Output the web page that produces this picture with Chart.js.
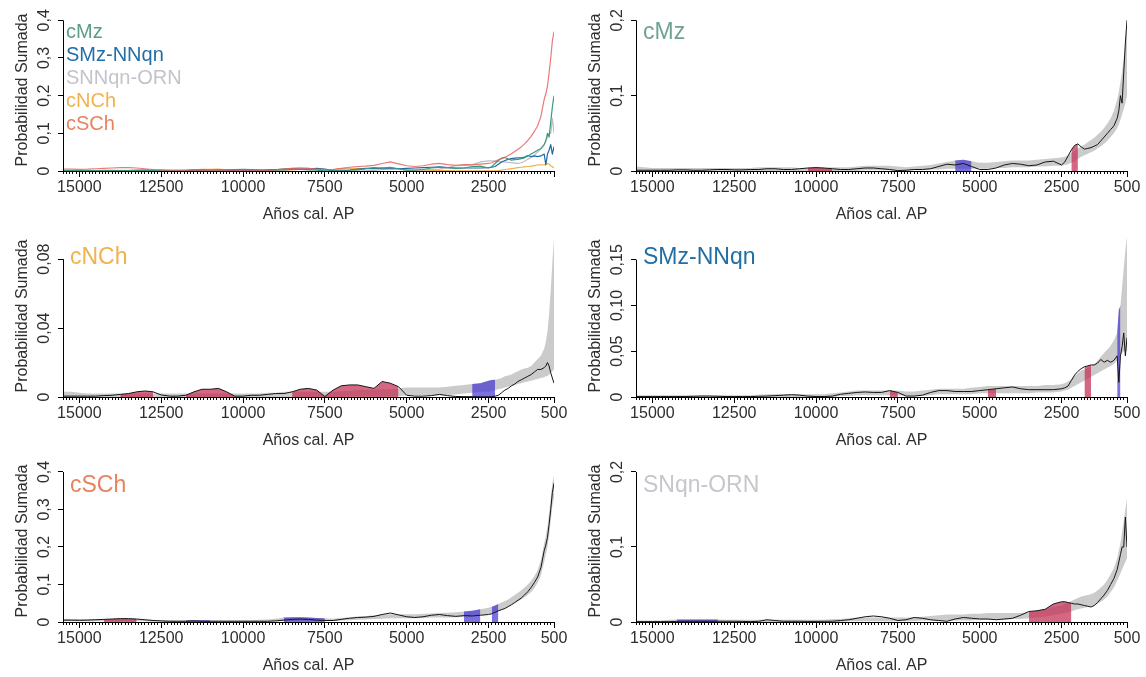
<!DOCTYPE html>
<html lang="es">
<head>
<meta charset="utf-8">
<title>Probabilidad sumada por región</title>
<script src="https://cdn.jsdelivr.net/npm/chart.js@4.4.1/dist/chart.umd.min.js"></script>
<style>
  html, body { margin: 0; background: #fff; }
  #fig { position: relative; width: 1146px; height: 677px; overflow: hidden;
         font-family: 'Liberation Sans', Arial, Helvetica, sans-serif; }
  #fig canvas { position: absolute; }
  .tag { position: absolute; font-size: 23px; line-height: 23px; white-space: nowrap; }
  .key { position: absolute; left: 66px; top: 20px; font-size: 20px; line-height: 23px; white-space: nowrap; }
</style>
</head>
<body>
<div id="fig">
  <canvas id="all" width="573" height="226" style="left:0;top:0"></canvas>
  <canvas id="cMz" width="573" height="226" style="left:573px;top:0"></canvas>
  <canvas id="cNCh" width="573" height="226" style="left:0;top:226px"></canvas>
  <canvas id="SMz" width="573" height="226" style="left:573px;top:226px"></canvas>
  <canvas id="cSCh" width="573" height="226" style="left:0;top:451px"></canvas>
  <canvas id="SNqn" width="573" height="226" style="left:573px;top:451px"></canvas>

  <div class="key">
    <div style="color:#5a9e8a">cMz</div>
    <div style="color:#226ea6">SMz-NNqn</div>
    <div style="color:#c3c3cb">SNNqn-ORN</div>
    <div style="color:#f1b24e">cNCh</div>
    <div style="color:#e9825f">cSCh</div>
  </div>
  <div class="tag" style="left:643px;top:20px;color:#6fa295">cMz</div>
  <div class="tag" style="left:70px;top:245px;color:#f1b24e">cNCh</div>
  <div class="tag" style="left:643px;top:245px;color:#226ea6">SMz-NNqn</div>
  <div class="tag" style="left:70px;top:473px;color:#e9825f">cSCh</div>
  <div class="tag" style="left:643px;top:473px;color:#c6c6cc">SNqn-ORN</div>
</div>

<script>
// Años cal. AP, grid shared by every curve
const years = [
  15500, 15250, 15000, 14750, 14500, 14250, 14000, 13750, 13500, 13250, 13000, 12750, 12500,
  12250, 12000, 11750, 11500, 11250, 11000, 10750, 10500, 10250, 10000, 9750, 9500, 9250,
  9000, 8750, 8500, 8250, 8000, 7750, 7500, 7250, 7000, 6750, 6500, 6250, 6000,
  5750, 5500, 5250, 5000, 4750, 4500, 4250, 4000, 3750, 3500, 3250, 3000, 2750,
  2500, 2400, 2300, 2200, 2100, 2000, 1900, 1800, 1700, 1600, 1500, 1400, 1300,
  1200, 1100, 1000, 900, 800, 750, 700, 650, 600, 550, 500
];

const xTicks = [15000, 12500, 10000, 7500, 5000, 2500, 500];
const xLabels = ['15000', '12500', '10000', '7500', '5000', '2500', '500'];

// cMz: summed probability, simulation envelope, booms / busts
const cMzSpd = [
  0.001, 0.001, 0.001, 0.001, 0.001, 0.0015, 0.0015, 0.001, 0.001, 0.0015, 0.002, 0.002, 0.0015,
  0.0015, 0.002, 0.002, 0.003, 0.003, 0.002, 0.002, 0.003, 0.004, 0.0045, 0.004, 0.003, 0.002,
  0.002, 0.003, 0.004, 0.004, 0.003, 0.002, 0.0005, 0.001, 0.002, 0.002, 0.003, 0.006, 0.009,
  0.008, 0.01, 0.006, 0.002, 0.002, 0.004, 0.008, 0.01, 0.009, 0.007, 0.008, 0.012, 0.013,
  0.008, 0.012, 0.02, 0.028, 0.034, 0.036, 0.032, 0.029, 0.03, 0.031, 0.033, 0.035, 0.04,
  0.045, 0.05, 0.055, 0.06, 0.07, 0.08, 0.1, 0.09, 0.13, 0.17, 0.2
];
const cMzLo = [
  0, 0, 0, 0, 0, 0, 0, 0, 0, 0, 0, 0, 0,
  0, 0, 0, 0, 0, 0, 0, 0, 0, 0, 0, 0, 0,
  0, 0, 0.001, 0.001, 0.001, 0.001, 0.001, 0.001, 0.001, 0.001, 0.002, 0.002, 0.003,
  0.003, 0.003, 0.003, 0.003, 0.003, 0.004, 0.004, 0.005, 0.005, 0.005, 0.006, 0.006, 0.007,
  0.007, 0.008, 0.009, 0.011, 0.013, 0.016, 0.019, 0.021, 0.023, 0.025, 0.027, 0.03, 0.033,
  0.036, 0.04, 0.045, 0.05, 0.057, 0.062, 0.068, 0.075, 0.082, 0.09, 0.1
];
const cMzHi = [
  0.006, 0.005, 0.004, 0.004, 0.004, 0.004, 0.004, 0.004, 0.004, 0.004, 0.004, 0.004, 0.004,
  0.004, 0.004, 0.005, 0.005, 0.005, 0.005, 0.005, 0.004, 0.004, 0.004, 0.004, 0.005, 0.005,
  0.005, 0.006, 0.007, 0.007, 0.007, 0.007, 0.006, 0.005, 0.006, 0.007, 0.008, 0.01, 0.012,
  0.014, 0.015, 0.013, 0.011, 0.011, 0.012, 0.013, 0.014, 0.014, 0.014, 0.015, 0.016, 0.017,
  0.018, 0.019, 0.021, 0.024, 0.027, 0.03, 0.033, 0.035, 0.038, 0.041, 0.044, 0.048, 0.052,
  0.057, 0.063, 0.07, 0.08, 0.095, 0.105, 0.118, 0.132, 0.15, 0.17, 0.19
];
const cMzBooms = [[10250, 9500], [2200, 2000]];
const cMzBusts = [[5750, 5250]];

// cNCh
const cNChSpd = [
  0.0005, 0.0005, 0.0005, 0.0005, 0.0005, 0.0008, 0.001, 0.0015, 0.002, 0.003, 0.0035, 0.003, 0.0012,
  0.0005, 0.0005, 0.001, 0.003, 0.0045, 0.0045, 0.005, 0.003, 0.0005, 0.0005, 0.001, 0.001, 0.0015,
  0.002, 0.002, 0.003, 0.0045, 0.005, 0.004, 0.0003, 0.004, 0.0065, 0.007, 0.007, 0.006, 0.005,
  0.009, 0.008, 0.006, 0.001, 0.0005, 0.0005, 0.0008, 0.0015, 0.0008, 0.0003, 0.0002, 0.0002, 0.0001,
  0.0001, 0.0002, 0.0005, 0.001, 0.0025, 0.004, 0.005, 0.0065, 0.0075, 0.009, 0.01, 0.011, 0.012,
  0.013, 0.0145, 0.016, 0.016, 0.017, 0.018, 0.02, 0.018, 0.014, 0.011, 0.008
];
const cNChLo = [
  0, 0, 0, 0, 0, 0, 0, 0, 0, 0, 0, 0, 0,
  0, 0, 0, 0, 0, 0, 0, 0, 0, 0, 0, 0, 0,
  0, 0, 0, 0, 0, 0, 0, 0, 0, 0.0005, 0.0005, 0.0005, 0.0005,
  0.0005, 0.0005, 0.0005, 0.0008, 0.001, 0.001, 0.001, 0.001, 0.0012, 0.0015, 0.002, 0.0025, 0.003,
  0.003, 0.0035, 0.004, 0.0045, 0.005, 0.0055, 0.006, 0.0065, 0.007, 0.0075, 0.008, 0.0085, 0.009,
  0.0095, 0.01, 0.0105, 0.011, 0.0115, 0.012, 0.012, 0.013, 0.014, 0.015, 0.016
];
const cNChHi = [
  0.003, 0.003, 0.0025, 0.002, 0.002, 0.002, 0.002, 0.002, 0.002, 0.002, 0.002, 0.002, 0.002,
  0.002, 0.002, 0.002, 0.002, 0.002, 0.002, 0.002, 0.002, 0.002, 0.002, 0.002, 0.002, 0.0025,
  0.0025, 0.003, 0.003, 0.003, 0.003, 0.003, 0.003, 0.003, 0.0035, 0.0035, 0.004, 0.004, 0.004,
  0.0045, 0.0045, 0.005, 0.0055, 0.0055, 0.0055, 0.0055, 0.0055, 0.006, 0.0065, 0.007, 0.0075, 0.008,
  0.0095, 0.0098, 0.01, 0.0105, 0.011, 0.012, 0.0125, 0.013, 0.014, 0.015, 0.016, 0.0165, 0.017,
  0.018, 0.02, 0.022, 0.024, 0.028, 0.032, 0.038, 0.048, 0.062, 0.078, 0.092
];
const cNChBooms = [[13750, 12750], [11750, 10250], [8500, 7500], [7250, 5250]];
const cNChBusts = [[3000, 2300]];

// SMz-NNqn
const smzSpd = [
  0.0005, 0.0005, 0.0005, 0.0005, 0.0005, 0.0005, 0.0005, 0.0008, 0.001, 0.001, 0.0008, 0.0005, 0.0005,
  0.0005, 0.0005, 0.0008, 0.001, 0.0015, 0.002, 0.0025, 0.002, 0.001, 0.0005, 0.0005, 0.001, 0.003,
  0.004, 0.005, 0.0055, 0.005, 0.005, 0.007, 0.005, 0.001, 0.001, 0.002, 0.005, 0.007, 0.007,
  0.006, 0.006, 0.006, 0.007, 0.008, 0.009, 0.01, 0.011, 0.009, 0.008, 0.008, 0.008, 0.008,
  0.009, 0.01, 0.012, 0.018, 0.024, 0.028, 0.031, 0.033, 0.034, 0.035, 0.035, 0.037, 0.041,
  0.038, 0.04, 0.038, 0.04, 0.045, 0.016, 0.045, 0.055, 0.07, 0.045, 0.065
];
const smzLo = [
  0, 0, 0, 0, 0, 0, 0, 0, 0, 0, 0, 0, 0,
  0, 0, 0, 0, 0, 0, 0, 0, 0, 0, 0, 0, 0.001,
  0.001, 0.002, 0.002, 0.002, 0.002, 0.002, 0.002, 0.001, 0.001, 0.001, 0.002, 0.003, 0.003,
  0.003, 0.003, 0.003, 0.004, 0.004, 0.004, 0.004, 0.004, 0.004, 0.004, 0.005, 0.005, 0.005,
  0.006, 0.007, 0.008, 0.01, 0.012, 0.014, 0.016, 0.018, 0.02, 0.022, 0.024, 0.026, 0.028,
  0.03, 0.032, 0.034, 0.036, 0.04, 0.04, 0.045, 0.048, 0.05, 0.05, 0.05
];
const smzHi = [
  0.002, 0.002, 0.002, 0.002, 0.002, 0.002, 0.002, 0.002, 0.002, 0.002, 0.002, 0.002, 0.002,
  0.002, 0.002, 0.0025, 0.003, 0.003, 0.003, 0.003, 0.003, 0.003, 0.003, 0.003, 0.004, 0.005,
  0.006, 0.007, 0.007, 0.007, 0.007, 0.007, 0.007, 0.006, 0.006, 0.007, 0.008, 0.009, 0.009,
  0.009, 0.009, 0.01, 0.011, 0.012, 0.012, 0.012, 0.012, 0.012, 0.012, 0.012, 0.013, 0.013,
  0.014, 0.015, 0.017, 0.02, 0.023, 0.026, 0.029, 0.03, 0.032, 0.034, 0.036, 0.04, 0.044,
  0.048, 0.052, 0.056, 0.062, 0.07, 0.095, 0.1, 0.12, 0.14, 0.16, 0.175
];
const smzBooms = [[7750, 7500], [4750, 4500], [1800, 1600]];
const smzBusts = [[800, 700]];

// cSCh
const cSChSpd = [
  0.005, 0.005, 0.0045, 0.005, 0.006, 0.007, 0.008, 0.009, 0.009, 0.008, 0.006, 0.004, 0.003,
  0.002, 0.002, 0.002, 0.003, 0.002, 0.002, 0.002, 0.002, 0.002, 0.002, 0.002, 0.002, 0.002,
  0.003, 0.005, 0.007, 0.008, 0.007, 0.005, 0.004, 0.004, 0.007, 0.01, 0.012, 0.013, 0.015,
  0.02, 0.024, 0.019, 0.014, 0.012, 0.014, 0.018, 0.02, 0.017, 0.015, 0.017, 0.016, 0.018,
  0.02, 0.022, 0.026, 0.03, 0.033, 0.036, 0.041, 0.046, 0.052, 0.058, 0.064, 0.072, 0.081,
  0.092, 0.105, 0.12, 0.145, 0.19, 0.205, 0.225, 0.26, 0.3, 0.345, 0.37
];
const cSChLo = [
  0.002, 0.002, 0.002, 0.002, 0.002, 0.003, 0.003, 0.003, 0.003, 0.003, 0.002, 0.001, 0.001,
  0.001, 0.001, 0.001, 0.001, 0.001, 0.001, 0.001, 0.001, 0.001, 0.001, 0.001, 0.001, 0.001,
  0.002, 0.003, 0.003, 0.003, 0.003, 0.003, 0.003, 0.003, 0.004, 0.005, 0.006, 0.007, 0.008,
  0.009, 0.01, 0.01, 0.01, 0.01, 0.011, 0.012, 0.012, 0.012, 0.013, 0.014, 0.016, 0.018,
  0.02, 0.022, 0.025, 0.028, 0.032, 0.036, 0.04, 0.045, 0.05, 0.055, 0.06, 0.066, 0.073,
  0.08, 0.09, 0.105, 0.125, 0.16, 0.18, 0.2, 0.23, 0.27, 0.31, 0.33
];
const cSChHi = [
  0.008, 0.008, 0.008, 0.008, 0.008, 0.008, 0.008, 0.008, 0.008, 0.008, 0.007, 0.006, 0.005,
  0.005, 0.005, 0.005, 0.005, 0.005, 0.005, 0.005, 0.005, 0.005, 0.005, 0.005, 0.006, 0.007,
  0.009, 0.012, 0.013, 0.013, 0.012, 0.011, 0.01, 0.009, 0.011, 0.013, 0.015, 0.016, 0.018,
  0.02, 0.021, 0.021, 0.021, 0.021, 0.022, 0.023, 0.024, 0.025, 0.026, 0.028, 0.03, 0.034,
  0.038, 0.041, 0.044, 0.048, 0.052, 0.056, 0.06, 0.066, 0.072, 0.078, 0.085, 0.092, 0.1,
  0.11, 0.122, 0.138, 0.165, 0.21, 0.23, 0.255, 0.29, 0.33, 0.37, 0.39
];
const cSChBooms = [[14250, 13250]];
const cSChBusts = [[11750, 11000], [8750, 7500], [3250, 2750], [2400, 2200]];

// SNqn-ORN
const snnSpd = [
  0.0005, 0.0005, 0.0005, 0.0005, 0.0005, 0.0008, 0.001, 0.001, 0.001, 0.001, 0.001, 0.001, 0.001,
  0.0008, 0.0005, 0.001, 0.003, 0.002, 0.001, 0.001, 0.001, 0.0008, 0.0008, 0.001, 0.001, 0.002,
  0.003, 0.005, 0.007, 0.008, 0.007, 0.005, 0.002, 0.003, 0.006, 0.005, 0.003, 0.002, 0.001,
  0.004, 0.006, 0.005, 0.004, 0.004, 0.003, 0.004, 0.005, 0.009, 0.014, 0.015, 0.017, 0.024,
  0.027, 0.027, 0.026, 0.025, 0.024, 0.024, 0.023, 0.022, 0.021, 0.02, 0.022, 0.026, 0.031,
  0.036, 0.042, 0.05, 0.058, 0.07, 0.08, 0.09, 0.1, 0.1, 0.14, 0.1
];
const snnLo = [
  0, 0, 0, 0, 0, 0, 0, 0, 0, 0, 0, 0, 0,
  0, 0, 0, 0, 0, 0, 0, 0, 0, 0, 0, 0, 0,
  0.001, 0.001, 0.001, 0.001, 0.001, 0.001, 0.001, 0.001, 0.001, 0.002, 0.002, 0.002, 0.002,
  0.002, 0.002, 0.002, 0.003, 0.003, 0.003, 0.003, 0.004, 0.004, 0.005, 0.006, 0.007, 0.009,
  0.011, 0.012, 0.013, 0.014, 0.016, 0.017, 0.018, 0.019, 0.02, 0.021, 0.022, 0.024, 0.027,
  0.03, 0.034, 0.04, 0.046, 0.055, 0.06, 0.065, 0.07, 0.075, 0.08, 0.085
];
const snnHi = [
  0.002, 0.002, 0.002, 0.002, 0.003, 0.0035, 0.0035, 0.0035, 0.0035, 0.0035, 0.0035, 0.003, 0.003,
  0.003, 0.003, 0.003, 0.003, 0.003, 0.003, 0.003, 0.003, 0.003, 0.003, 0.003, 0.004, 0.004,
  0.005, 0.006, 0.006, 0.006, 0.006, 0.006, 0.006, 0.006, 0.006, 0.007, 0.008, 0.009, 0.01,
  0.01, 0.01, 0.011, 0.011, 0.012, 0.012, 0.012, 0.012, 0.012, 0.013, 0.015, 0.017, 0.02,
  0.022, 0.024, 0.026, 0.028, 0.03, 0.032, 0.034, 0.035, 0.036, 0.037, 0.039, 0.042, 0.046,
  0.05, 0.056, 0.064, 0.072, 0.085, 0.095, 0.105, 0.12, 0.135, 0.15, 0.165
];
const snnBooms = [[3500, 2200]];
const snnBusts = [[14250, 13000]];

// y ticks for each panel
const yTicksAll = [0, 0.1, 0.2, 0.3, 0.4];
const yLabelsAll = ['0', '0,1', '0,2', '0,3', '0,4'];
const yTicksHalf = [0, 0.1, 0.2];
const yLabelsHalf = ['0', '0,1', '0,2'];
const yTicksNCh = [0, 0.04, 0.08];
const yLabelsNCh = ['0', '0,04', '0,08'];
const yTicksSMz = [0, 0.05, 0.1, 0.15];
const yLabelsSMz = ['0', '0,05', '0,10', '0,15'];

// minor ticks every 100 years along the time axis
const minorYears = [];
for (let v = 15500; v >= 500; v -= 100) minorYears.push(v);

const FONT = "'Liberation Sans', Arial, Helvetica, sans-serif";
const INK = '#2e2e2e';
const BOOM = 'rgba(195, 45, 80, 0.72)';
const BUST = 'rgba(60, 45, 210, 0.68)';
const ENVELOPE = 'rgba(140, 140, 140, 0.45)';

const measure = document.createElement('canvas').getContext('2d');
// keeps rotated y labels centred on the same column whatever their width
function labelPad(labels) {
  measure.font = '16px ' + FONT;
  const widest = Math.max(...labels.map(t => measure.measureText(t).width));
  return 13 - widest / 2;
}

function series(values) {
  return years.map((yr, i) => ({ x: yr, y: values[i] }));
}

function within(ranges, values) {
  return years.map((yr, i) => ({
    x: yr,
    y: ranges.some(([from, to]) => yr <= from && yr >= to) ? values[i] : null
  }));
}

// R-style y axis line: only from the first to the last tick
const yAxisLine = {
  id: 'yAxisLine',
  afterDraw(chart) {
    const s = chart.scales.y;
    const t = s.ticks;
    const x = Math.round(s.right - 0.5) + 0.5;
    const ctx = chart.ctx;
    ctx.save();
    ctx.strokeStyle = '#000';
    ctx.lineWidth = 1;
    ctx.beginPath();
    ctx.moveTo(x, s.getPixelForValue(t[0].value));
    ctx.lineTo(x, s.getPixelForValue(t[t.length - 1].value));
    ctx.stroke();
    ctx.restore();
  }
};

function options(yMax, yTicks, yLabels, lastLabel) {
  const tickFont = { family: FONT, size: 16 };
  return {
    responsive: false,
    animation: false,
    events: [],
    layout: { padding: { top: 9, right: 19, bottom: 0, left: 0 } },
    elements: { point: { radius: 0 }, line: { tension: 0, borderJoinStyle: 'round' } },
    plugins: { legend: { display: false }, tooltip: { enabled: false }, filler: { propagate: false } },
    scales: {
      x: {
        type: 'linear', position: 'bottom', reverse: true, min: 500, max: 15500, weight: 1,
        afterBuildTicks: s => { s.ticks = xTicks.map(v => ({ value: v })); },
        afterFit: s => { s.height = 55; s.paddingLeft = 0; s.paddingRight = 0; },
        border: { color: '#000', width: 1 },
        grid: { drawOnChartArea: false, tickLength: 6, tickColor: '#000', tickWidth: 1 },
        ticks: {
          autoSkip: false, maxRotation: 0, padding: 1, color: INK, font: tickFont,
          callback: (v, i) => (i === xTicks.length - 1 && !lastLabel) ? '' : xLabels[i]
        },
        title: { display: true, text: 'Años cal. AP', color: INK, font: tickFont, padding: { top: 0, bottom: 1.4 } }
      },
      xMinor: {
        type: 'linear', position: 'bottom', reverse: true, min: 500, max: 15500, weight: 0,
        afterBuildTicks: s => { s.ticks = minorYears.map(v => ({ value: v })); },
        afterFit: s => { s.height = 0; s.paddingLeft = 0; s.paddingRight = 0; },
        border: { display: false },
        grid: { drawOnChartArea: false, tickLength: 3, tickColor: '#000', tickWidth: 1 },
        ticks: { display: false }
      },
      y: {
        min: 0, max: yMax,
        afterBuildTicks: s => { s.ticks = yTicks.map(v => ({ value: v })); },
        afterFit: s => { s.width = 63; s.paddingTop = 0; s.paddingBottom = 0; },
        border: { display: false },
        grid: { drawOnChartArea: false, tickLength: 5, tickColor: '#000', tickWidth: 1 },
        ticks: {
          minRotation: 90, maxRotation: 90, crossAlign: 'center', padding: labelPad(yLabels),
          color: INK, font: tickFont, callback: (v, i) => yLabels[i]
        },
        title: { display: true, text: 'Probabilidad Sumada', color: INK, font: tickFont, padding: { top: 13.4, bottom: 0 } }
      }
    }
  };
}

// one panel of the model test: envelope, booms/busts and the observed SPD
function testPanel(id, spd, lo, hi, booms, busts, yMax, yTicks, yLabels) {
  new Chart(document.getElementById(id), {
    type: 'line',
    data: {
      datasets: [
        { data: series(spd), xAxisID: 'x', borderColor: '#151515', borderWidth: 1, fill: false },
        { data: within(booms, spd), xAxisID: 'x', borderWidth: 0, backgroundColor: BOOM, fill: 'origin' },
        { data: within(busts, hi), xAxisID: 'x', borderWidth: 0, backgroundColor: BUST, fill: 'origin' },
        { data: series(hi), xAxisID: 'x', borderWidth: 0, backgroundColor: ENVELOPE, fill: '+1' },
        { data: series(lo), xAxisID: 'x', borderWidth: 0, fill: false }
      ]
    },
    options: options(yMax, yTicks, yLabels, true),
    plugins: [yAxisLine]
  });
}

// all regions together
new Chart(document.getElementById('all'), {
  type: 'line',
  data: {
    datasets: [
      { data: series(cSChSpd), xAxisID: 'x', borderColor: 'rgba(235, 95, 95, 0.85)', borderWidth: 1.2, fill: false },
      { data: series(cMzSpd), xAxisID: 'x', borderColor: '#3a9a80', borderWidth: 1.2, fill: false },
      { data: series(smzSpd), xAxisID: 'x', borderColor: '#1f6aa5', borderWidth: 1.2, fill: false },
      { data: series(snnSpd), xAxisID: 'x', borderColor: '#bdbdc6', borderWidth: 1.2, fill: false },
      { data: series(cNChSpd), xAxisID: 'x', borderColor: '#f2b045', borderWidth: 1.2, fill: false }
    ]
  },
  options: options(0.43, yTicksAll, yLabelsAll, false),
  plugins: [yAxisLine]
});

testPanel('cMz', cMzSpd, cMzLo, cMzHi, cMzBooms, cMzBusts, 0.215, yTicksHalf, yLabelsHalf);
testPanel('cNCh', cNChSpd, cNChLo, cNChHi, cNChBooms, cNChBusts, 0.094, yTicksNCh, yLabelsNCh);
testPanel('SMz', smzSpd, smzLo, smzHi, smzBooms, smzBusts, 0.177, yTicksSMz, yLabelsSMz);
testPanel('cSCh', cSChSpd, cSChLo, cSChHi, cSChBooms, cSChBusts, 0.432, yTicksAll, yLabelsAll);
testPanel('SNqn', snnSpd, snnLo, snnHi, snnBooms, snnBusts, 0.216, yTicksHalf, yLabelsHalf);
</script>
</body>
</html>
